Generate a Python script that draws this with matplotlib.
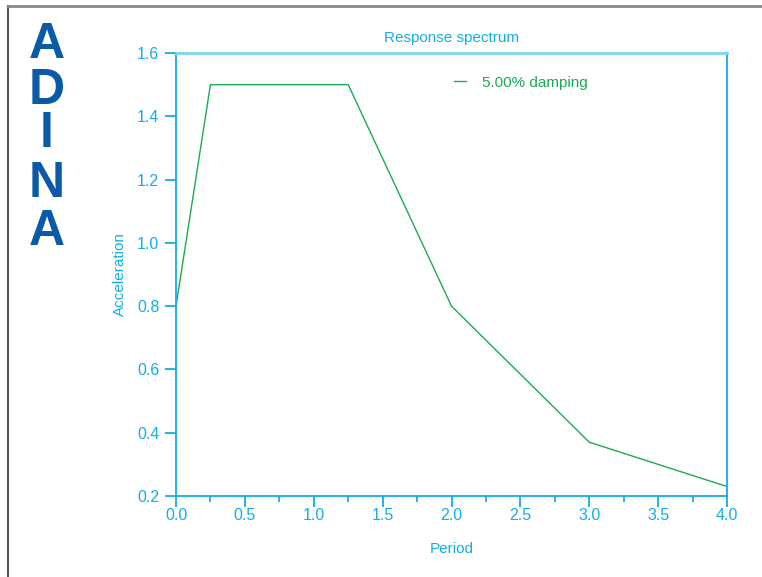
import matplotlib
matplotlib.use('Agg')
import matplotlib.pyplot as plt
from matplotlib.lines import Line2D
from matplotlib.ticker import MultipleLocator

plt.rcParams['font.family'] = ['Liberation Sans', 'DejaVu Sans']

# data
period = [0.0, 0.25, 1.25, 2.0, 3.0, 4.0]
accel = [0.8, 1.5, 1.5, 0.8, 0.37, 0.23]
series_label = '5.00% damping'
logo = ['A', 'D', 'I', 'N', 'A']

blue = '#12aee8'
green = '#1aaa55'

fig = plt.figure(figsize=(7.62, 5.77), dpi=100)
ax = fig.add_axes([176/762, 1 - 496/577, (727 - 176)/762, (496 - 53)/577])

ax.plot(period, accel, color=green, lw=1.0, label=series_label)
ax.set_xlim(0, 4)
ax.set_ylim(0.2, 1.6)
ax.xaxis.set_major_locator(MultipleLocator(0.5))
ax.xaxis.set_minor_locator(MultipleLocator(0.25))
ax.yaxis.set_major_locator(MultipleLocator(0.2))
ax.xaxis.set_major_formatter(plt.FormatStrFormatter('%.1f'))
ax.yaxis.set_major_formatter(plt.FormatStrFormatter('%.1f'))

for s in ax.spines.values():
    s.set_color(blue)
    s.set_linewidth(1.3)
ax.spines['top'].set_color('#7fd3f3')
ax.spines['top'].set_linewidth(2.0)

ax.tick_params(axis='both', which='major', direction='out', length=8, width=1.3,
               colors=blue, labelsize=11.5)
ax.tick_params(axis='x', which='major', pad=1)
ax.tick_params(axis='y', which='major', pad=4)
ax.tick_params(axis='x', which='minor', direction='out', length=4, width=1.3, color=blue)

ax.set_xlabel('Period', color=blue, fontsize=11, labelpad=13)
ax.set_ylabel('Acceleration', color=blue, fontsize=11, labelpad=7)
ax.set_title('Response spectrum', color=blue, fontsize=11, pad=8)

leg = ax.legend(loc='upper left', bbox_to_anchor=(0.48, 0.98), frameon=False,
                handlelength=0.8, handletextpad=1.0, fontsize=11)
for t in leg.get_texts():
    t.set_color(green)

# ADINA logo
ys = [45, 91, 134, 184, 232]
for ch, y in zip(logo, ys):
    fig.text(47/762, 1 - y/577, ch, ha='center', va='center', fontsize=36,
             fontweight='bold', color='#0a5aa8')

# page frame
fig.add_artist(Line2D([8/762, 8/762], [0, 1 - 6/577], color='#555555', lw=1.5,
                      transform=fig.transFigure))
fig.add_artist(Line2D([8/762, 1], [1 - 6/577, 1 - 6/577], color='#888888', lw=2.0,
                      transform=fig.transFigure))

fig.savefig('out.png', dpi=100)
